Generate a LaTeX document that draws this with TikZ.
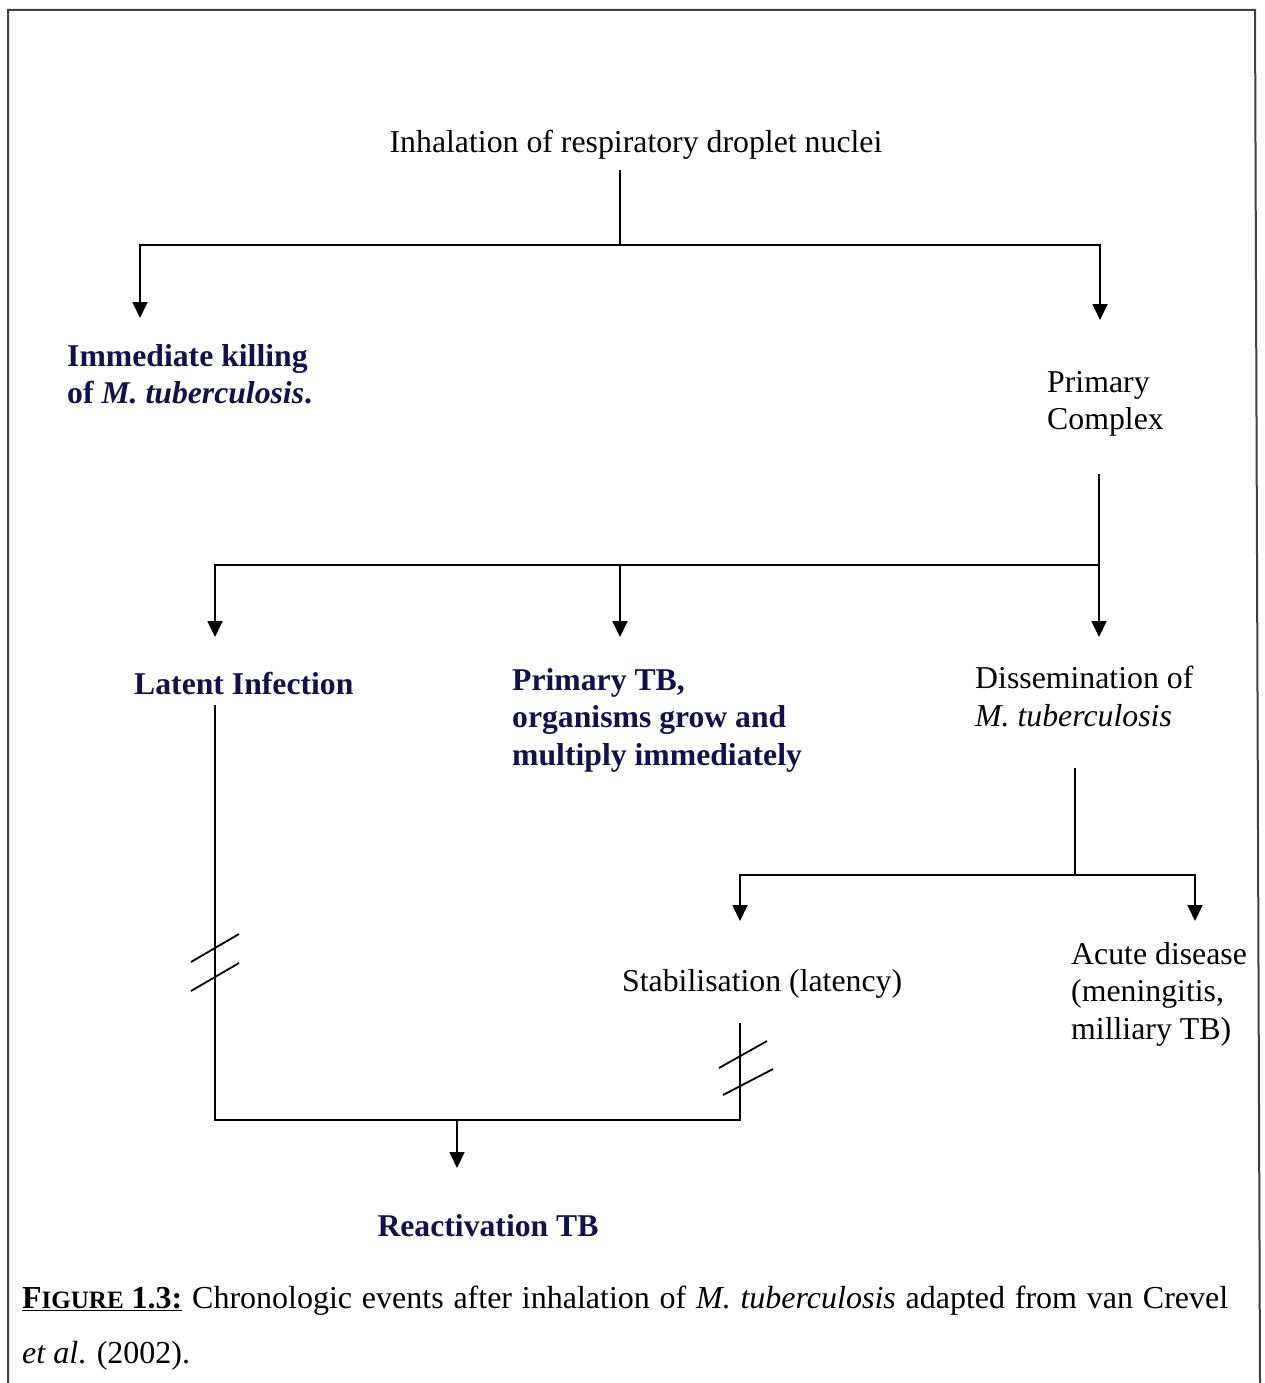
\documentclass[tikz,border=0pt]{standalone}
\usepackage{fontspec}
\setmainfont{Liberation Serif}
\usetikzlibrary{arrows.meta}
\definecolor{navy}{RGB}{16,18,74}
\begin{document}
\begin{tikzpicture}[x=1pt,y=-1pt,
  txt/.style={inner sep=0pt,font=\fontsize{31.8}{37.5}\selectfont},
  btxt/.style={inner sep=0pt,font=\fontsize{31.7}{37.5}\selectfont\bfseries,text=navy},
  conn/.style={line width=1.8pt},
  arr/.style={conn,-{Triangle[length=16pt,width=15pt]}},
  brk/.style={line width=1.8pt}]
\fill[white] (0,0) rectangle (1264,1383);
\useasboundingbox (0,0) rectangle (1264,1383);
% frame
\draw[line width=2pt,black!75] (8,1383) -- (8,10) -- (1255,10) -- (1260,1383);
% texts
\node[txt,anchor=base] (inh) at (636,153) {Inhalation of respiratory droplet nuclei};
\node[btxt,anchor=north west,align=left] (kill) at (67,344) {Immediate killing\\of \textit{M. tuberculosis}.};
\node[txt,anchor=north west,align=left] (pc) at (1047,371) {Primary\\Complex};
\node[btxt,anchor=base west] (lat) at (134,694) {Latent Infection};
\node[btxt,anchor=north west,align=left] (ptb) at (512,668) {Primary TB,\\organisms grow and\\multiply immediately};
\node[txt,anchor=north west,align=left] (dis) at (975,666) {Dissemination of\\\textit{M. tuberculosis}};
\node[txt,anchor=base west] (stab) at (622,991) {Stabilisation (latency)};
\node[txt,anchor=north west,align=left] (acute) at (1071,942) {Acute disease\\(meningitis,\\milliary TB)};
\node[btxt,anchor=base] (react) at (488,1236) {Reactivation TB};
\node[inner sep=0pt,anchor=north west,text width=1206pt,align=justify,font=\fontsize{32}{55}\selectfont] (cap) at (22,1286)
 {\underline{\textbf{F{\fontsize{25}{55}\selectfont IGURE} 1.3:}} Chronologic events after inhalation of \textit{M. tuberculosis} adapted from van Crevel\linebreak \textit{et al}. (2002).};
% junction coordinates
\coordinate (t1) at (620,170);
\coordinate (j1) at (620,245);
\coordinate (a1) at (140,318);
\coordinate (a2) at (1100,320);
\coordinate (p1) at (1099,474);
\coordinate (j2) at (1099,565);
\coordinate (a3) at (215,637);
\coordinate (a4) at (620,637);
\coordinate (j2m) at (620,565);
\coordinate (a5) at (1099,637);
\coordinate (d1) at (1075,768);
\coordinate (j3) at (1075,875);
\coordinate (a6) at (740,921);
\coordinate (a7) at (1195,921);
\coordinate (l1) at (215,705);
\coordinate (s1) at (740,1023);
\coordinate (b1) at (215,1120);
\coordinate (b2) at (740,1120);
\coordinate (j4) at (457,1120);
\coordinate (a8) at (457,1168);
% connectors
\draw[conn] (t1) -- (j1);
\draw[arr] (j1) -| (a1);
\draw[arr] (j1) -| (a2);
\draw[conn] (p1) -- (j2);
\draw[arr] (j2) -| (a3);
\draw[arr] (j2) -- (a5);
\draw[arr] (j2m) -- (a4);
\draw[conn] (d1) -- (j3);
\draw[arr] (j3) -| (a6);
\draw[arr] (j3) -| (a7);
\draw[conn] (l1) -- (b1) -- (b2) -- (s1);
\draw[arr] (j4) -- (a8);
% break marks
\draw[brk] (191,962) -- (239,934);
\draw[brk] (191,991) -- (239,963);
\draw[brk] (719,1068) -- (767,1041);
\draw[brk] (723,1095) -- (773,1069);
\end{tikzpicture}
\end{document}
